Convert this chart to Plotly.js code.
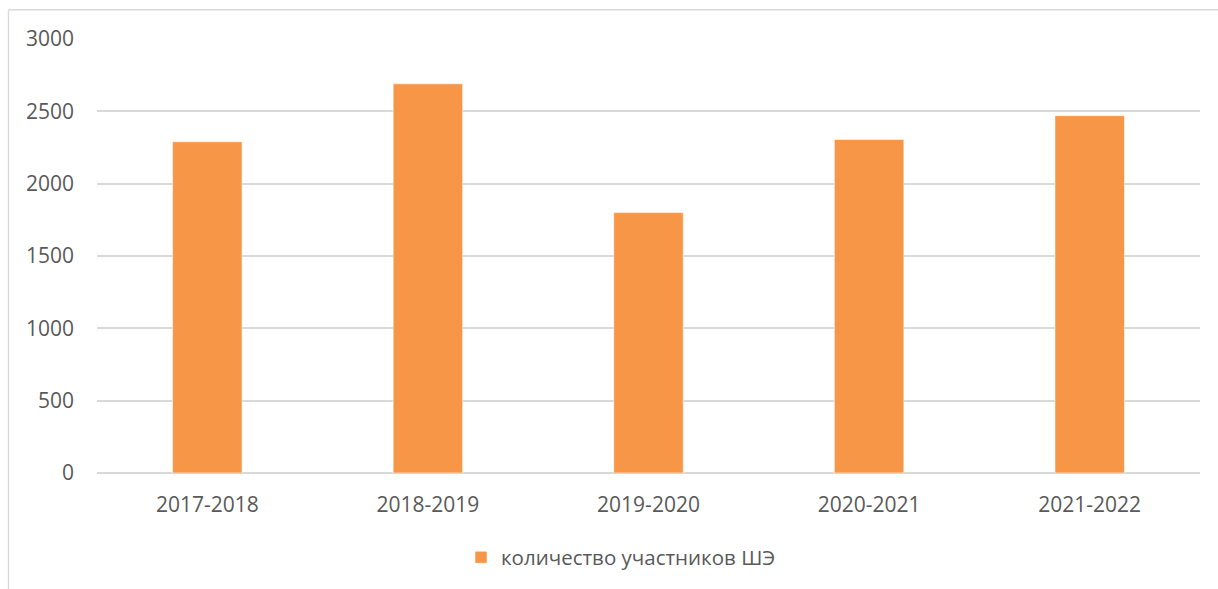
<!DOCTYPE html>
<html>
<head>
<meta charset="utf-8">
<script src="https://cdn.plot.ly/plotly-3.0.1.min.js"></script>
<style>html,body{margin:0;padding:0;background:#fff;}#chart{width:1218px;height:589px;}</style>
</head>
<body>
<div id="chart"></div>
<script>
var categories = ["2017-2018", "2018-2019", "2019-2020", "2020-2021", "2021-2022"];
var participants = [2290, 2690, 1800, 2305, 2470];
var seriesName = "количество участников ШЭ";
var yTicks = [0, 500, 1000, 1500, 2000, 2500, 3000];

var W = 1218, H = 589;
var M = {l: 97, r: 18, t: 39, b: 113};
var pw = W - M.l - M.r, ph = H - M.t - M.b;
function px2x(p) { return (p - M.l) / pw; }
function py2y(p) { return (H - M.b - p) / ph; }

var fontFam = "'Open Sans', 'Noto Sans', sans-serif";
var textCol = "#595959";
var gridCol = "#D9D9D9";

var trace = {
  type: "bar",
  x: categories,
  y: participants,
  name: seriesName,
  marker: {color: "#F79646", line: {color: "rgba(255,255,255,0.55)", width: 1}},
  hoverinfo: "x+y",
  showlegend: true
};

var layout = {
  width: W, height: H,
  margin: M,
  paper_bgcolor: "#fff",
  plot_bgcolor: "#fff",
  bargap: 0.685,
  font: {family: fontFam, color: textCol, size: 21},
  xaxis: {
    type: "category",
    showgrid: false,
    showline: false,
    zeroline: false,
    ticks: "",
    ticklabelstandoff: 17,
    tickfont: {family: fontFam, size: 21, color: textCol}
  },
  yaxis: {
    range: [0, 3000],
    tickvals: yTicks,
    ticktext: yTicks.map(String),
    showgrid: true,
    gridcolor: gridCol,
    gridwidth: 1.5,
    zeroline: true,
    zerolinecolor: gridCol,
    zerolinewidth: 1.5,
    showline: false,
    ticks: "",
    ticklabelstandoff: 22,
    tickfont: {family: fontFam, size: 21, color: textCol},
    fixedrange: true
  },
  showlegend: true,
  legend: {
    orientation: "h",
    x: px2x(461), xanchor: "left",
    y: py2y(561), yanchor: "middle",
    itemwidth: 30,
    font: {family: fontFam, size: 20.5, color: textCol},
    bgcolor: "rgba(0,0,0,0)"
  },
  shapes: [
    {type: "line", xref: "paper", yref: "paper", x0: px2x(8.5), x1: px2x(1230), y0: py2y(9.5), y1: py2y(9.5), line: {color: gridCol, width: 1.4}, layer: "below"},
    {type: "line", xref: "paper", yref: "paper", x0: px2x(8.5), x1: px2x(8.5), y0: py2y(9.5), y1: py2y(600), line: {color: gridCol, width: 1.4}, layer: "below"}
  ]
};

Plotly.newPlot("chart", [trace], layout, {displayModeBar: false});
</script>
</body>
</html>
